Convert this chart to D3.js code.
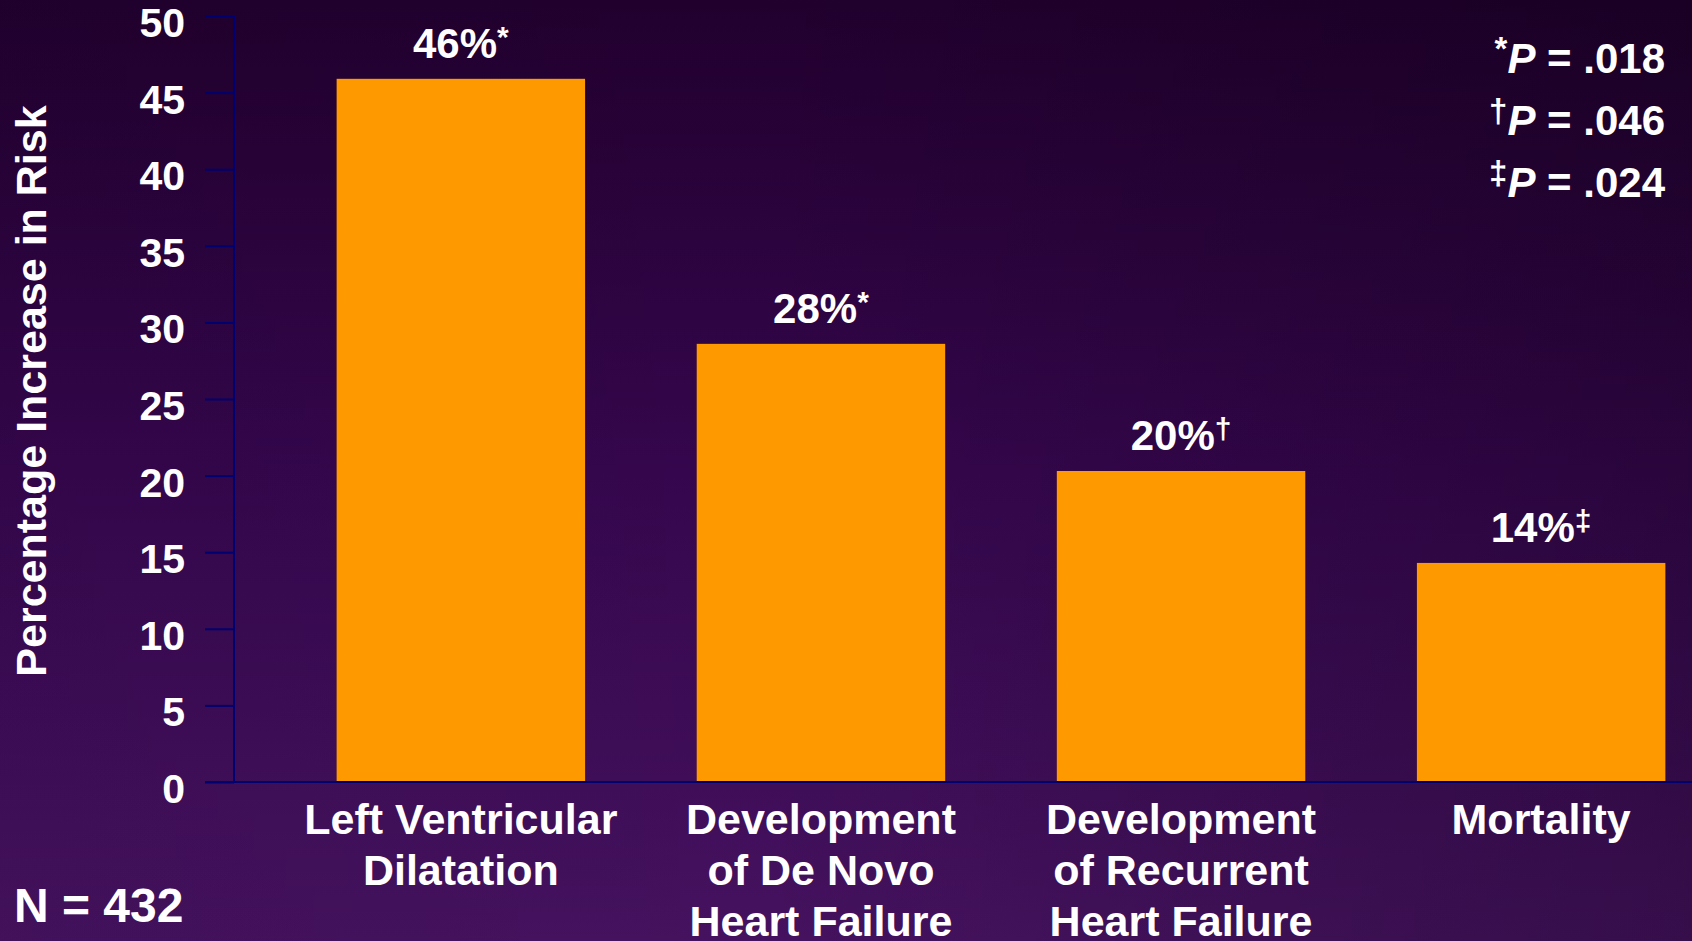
<!DOCTYPE html>
<html>
<head>
<meta charset="utf-8">
<script src="https://cdn.jsdelivr.net/npm/d3@7"></script>
<style>
  html, body { margin: 0; padding: 0; background: #2a0540; }
  svg { display: block; }
  text { font-family: "Liberation Sans", Arial, sans-serif; font-weight: bold; fill: #fff; }
</style>
</head>
<body>
<svg id="chart" width="1692" height="941"></svg>
<script>
// data
var categories = [
    ["Left Ventricular", "Dilatation"],
    ["Development", "of De Novo", "Heart Failure"],
    ["Development", "of Recurrent", "Heart Failure"],
    ["Mortality"]
];
var values = [45.9, 28.6, 20.3, 14.3];
var valueLabels = ["46%", "28%", "20%", "14%"];
var marks = ["*", "*", "\u2020", "\u2021"];
var yTicks = [0, 5, 10, 15, 20, 25, 30, 35, 40, 45, 50];
var pMarks = ["*", "\u2020", "\u2021"];
var pValues = [".018", ".046", ".024"];

var svg = d3.select("#chart"),
    width = +svg.attr("width"),
    height = +svg.attr("height");

// background: dark at the top, lighter purple towards the bottom, darker on the right
var defs = svg.append("defs");
var lg = defs.append("linearGradient").attr("id", "bg")
    .attr("x1", "0%").attr("y1", "0%").attr("x2", "0%").attr("y2", "100%");
lg.append("stop").attr("offset", "0%").attr("stop-color", "#21002e");
lg.append("stop").attr("offset", "50%").attr("stop-color", "#35064d");
lg.append("stop").attr("offset", "100%").attr("stop-color", "#45125f");
svg.append("rect").attr("width", width).attr("height", height).attr("fill", "url(#bg)");

var hg = defs.append("linearGradient").attr("id", "shade")
    .attr("x1", "0%").attr("y1", "0%").attr("x2", "100%").attr("y2", "0%");
hg.append("stop").attr("offset", "0%").attr("stop-color", "#000").attr("stop-opacity", 0.05);
hg.append("stop").attr("offset", "45%").attr("stop-color", "#000").attr("stop-opacity", 0);
hg.append("stop").attr("offset", "100%").attr("stop-color", "#000").attr("stop-opacity", 0.22);
svg.append("rect").attr("width", width).attr("height", height).attr("fill", "url(#shade)");

var axisX = 234;
var y = d3.scaleLinear().domain([0, 50]).range([782, 16]);
var x = d3.scaleBand().domain(d3.range(values.length))
    .range([axisX, 1768]).paddingInner(0.31).paddingOuter(0.285);

// bars
svg.selectAll(".bar").data(values).enter().append("rect")
    .attr("class", "bar")
    .attr("x", function(d, i){ return x(i); })
    .attr("y", function(d){ return y(d); })
    .attr("width", x.bandwidth())
    .attr("height", function(d){ return y(0) - y(d); })
    .attr("fill", "#ff9900");

// y axis
var yAxis = d3.axisLeft(y).tickValues(yTicks).tickSize(29).tickPadding(20);
var gy = svg.append("g").attr("transform", "translate(" + axisX + ",0)").call(yAxis);
gy.select(".domain").remove();
gy.selectAll(".tick line").attr("stroke", "#000070").attr("stroke-width", 2);
gy.selectAll(".tick text").attr("font-size", 41).attr("dy", "0.5em")
    .attr("fill", "#fff").attr("font-family", "Liberation Sans, Arial, sans-serif");
gy.append("line").attr("x1", 0).attr("x2", 0).attr("y1", y(50)).attr("y2", y(0))
    .attr("stroke", "#000070").attr("stroke-width", 2);
svg.append("line").attr("x1", 205).attr("x2", width).attr("y1", y(0)).attr("y2", y(0))
    .attr("stroke", "#000070").attr("stroke-width", 2);

// y title
svg.append("text")
    .attr("transform", "translate(46,391) rotate(-90)")
    .attr("text-anchor", "middle")
    .attr("font-size", 43)
    .text("Percentage Increase in Risk");

// value labels
var vl = svg.selectAll(".vlabel").data(values).enter().append("text")
    .attr("class", "vlabel")
    .attr("x", function(d, i){ return x(i) + x.bandwidth() / 2; })
    .attr("y", function(d){ return y(d) - 21; })
    .attr("text-anchor", "middle")
    .attr("font-size", 42);
vl.append("tspan").text(function(d, i){ return valueLabels[i]; });
vl.append("tspan").attr("dy", -11).attr("font-size", 30)
    .text(function(d, i){ return marks[i]; });

// category labels
svg.selectAll(".cat").data(categories).enter().append("text")
    .attr("class", "cat")
    .attr("x", function(d, i){ return x(i) + x.bandwidth() / 2; })
    .attr("text-anchor", "middle")
    .attr("font-size", 43)
    .each(function(lines){
        var t = d3.select(this);
        lines.forEach(function(s, k){
            t.append("tspan").attr("x", t.attr("x")).attr("y", 834 + k * 51).text(s);
        });
    });

// p-value legend
pValues.forEach(function(p, i){
    var base = 73 + i * 62;
    var t = svg.append("text")
        .attr("x", 1665).attr("y", base)
        .attr("text-anchor", "end")
        .attr("font-size", 42);
    t.append("tspan").attr("font-size", 33).attr("dy", -13).text(pMarks[i]);
    t.append("tspan").attr("font-style", "italic").attr("dy", 13).text("P");
    t.append("tspan").text(" = " + p);
});

// sample size
svg.append("text").attr("x", 14).attr("y", 922).attr("font-size", 48).text("N = 432");
</script>
</body>
</html>
